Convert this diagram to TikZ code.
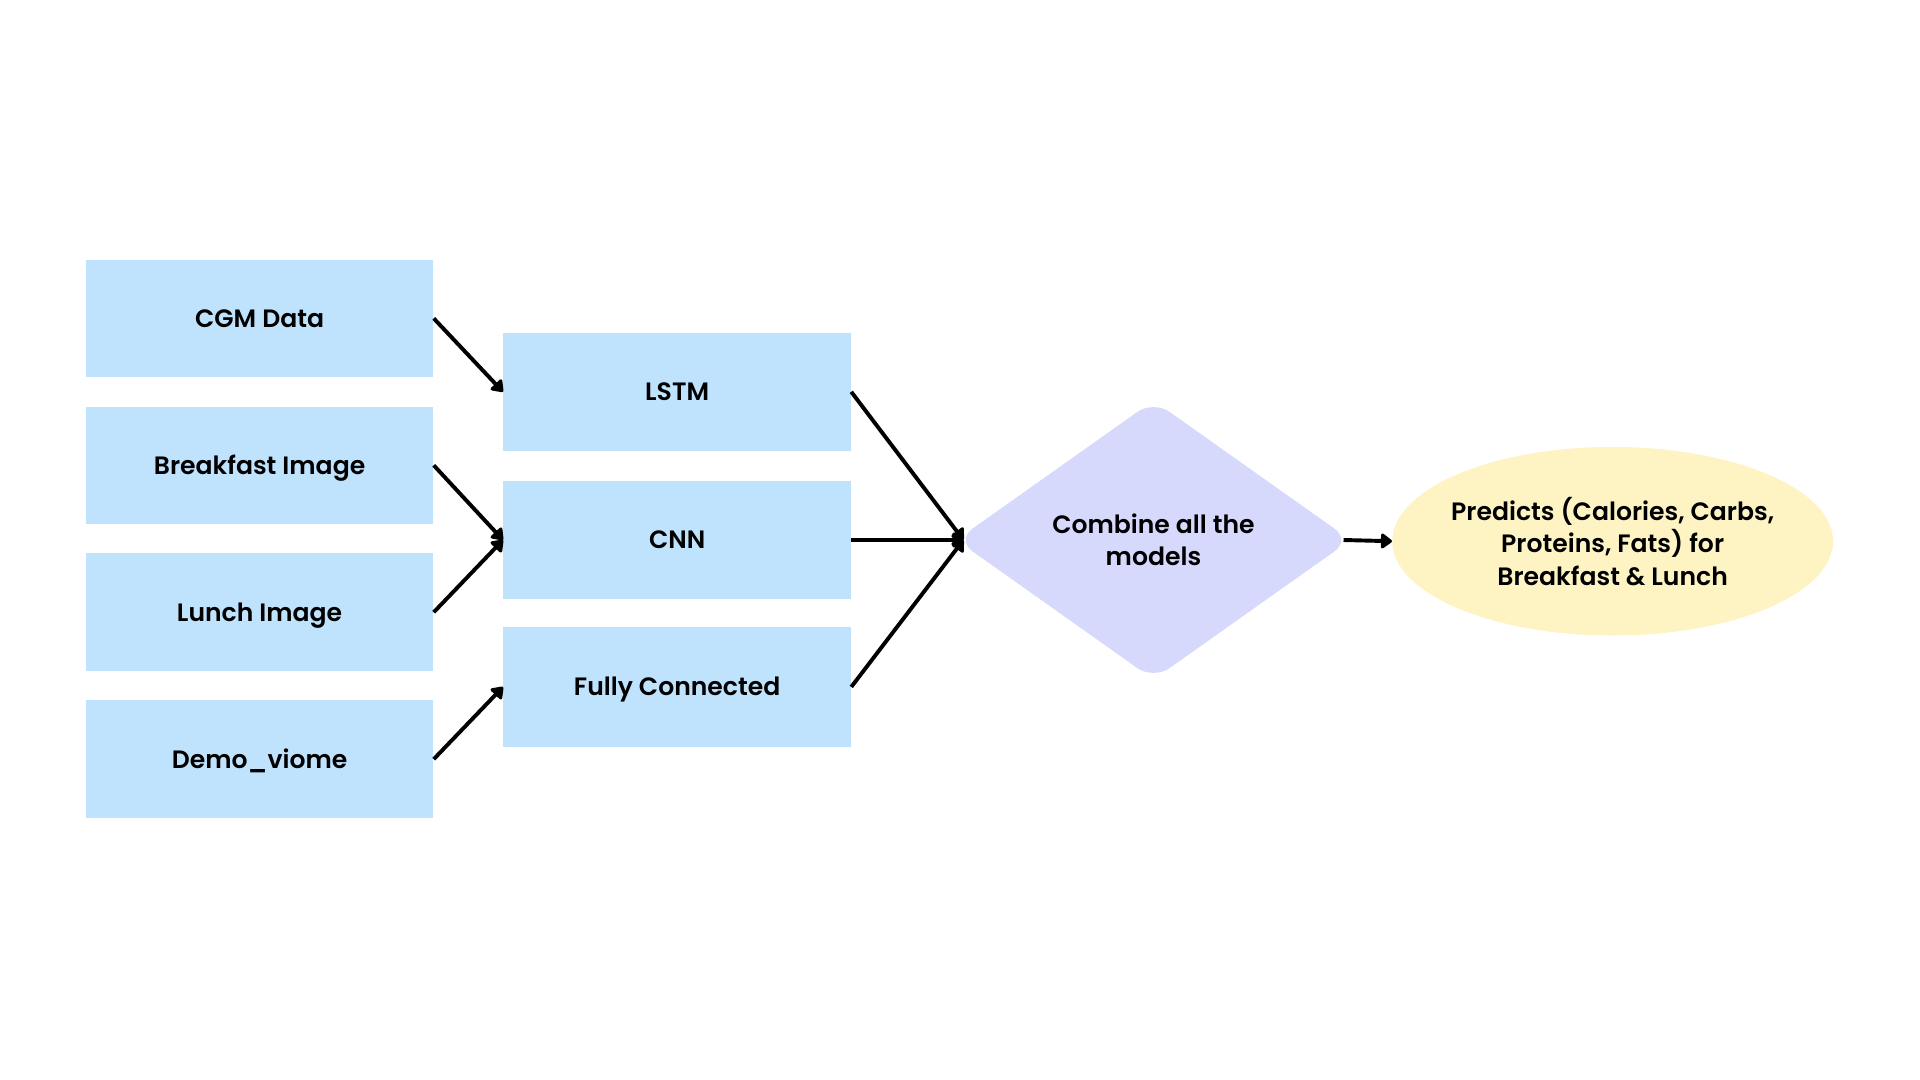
\documentclass[tikz,border=0pt]{standalone}
\usepackage{fontspec}
\setmainfont{Poppins SemiBold}
\usetikzlibrary{shapes.geometric,arrows.meta}
\definecolor{boxblue}{HTML}{BFE3FD}
\definecolor{lav}{HTML}{D7D9FC}
\definecolor{yel}{HTML}{FEF4C3}
\begin{document}
\begin{tikzpicture}[x=1pt,y=-1pt,
  box/.style={fill=boxblue, minimum width=284pt, minimum height=96pt, inner sep=0pt, text height=14.5pt, text depth=0pt, font=\fontsize{20.5}{26}\selectfont},
  arr/.style={line width=3.2pt, -{Triangle[length=10pt,width=14pt,round]}},
  lbl/.style={font=\fontsize{20.5}{26.5}\selectfont, align=center}]
\useasboundingbox (0,0) rectangle (1568,882);
\node[box] (cgm)   at (212,260) {CGM Data};
\node[box] (bimg)  at (212,380) {Breakfast Image};
\node[box] (limg)  at (212,500) {Lunch Image};
\node[box] (demo)  at (212,620) {Demo\_viome};
\node[box] (lstm)  at (553,320) {LSTM};
\node[box, minimum height=97pt] (cnn)   at (553,441) {CNN};
\node[box, minimum height=98pt] (fc)    at (553,561) {Fully Connected};
\node[shape=diamond, fill=lav, rounded corners=16pt, minimum width=322pt, minimum height=228pt, inner sep=0pt, aspect=1.41, lbl] (comb) at (942,441) {Combine all the\\models};
\node[shape=ellipse, fill=yel, minimum width=360pt, minimum height=154pt, inner xsep=-30pt, inner ysep=-10pt, lbl] (pred) at (1317,442) {Predicts (Calories, Carbs,\\Proteins, Fats) for\\Breakfast \& Lunch};
\coordinate (combin) at ([xshift=6pt]comb.west);
\coordinate (combout) at ([xshift=-6pt]comb.east);
\draw[arr] (cgm.east) -- (lstm.west);
\draw[arr] (bimg.east) -- (cnn.west);
\draw[arr] (limg.east) -- (cnn.west);
\draw[arr] (demo.east) -- (fc.west);
\draw[arr] (lstm.east) -- (combin);
\draw[arr] (cnn.east) -- (combin);
\draw[arr] (fc.east) -- (combin);
\draw[arr] (combout) -- (pred.west);
\end{tikzpicture}
\end{document}
